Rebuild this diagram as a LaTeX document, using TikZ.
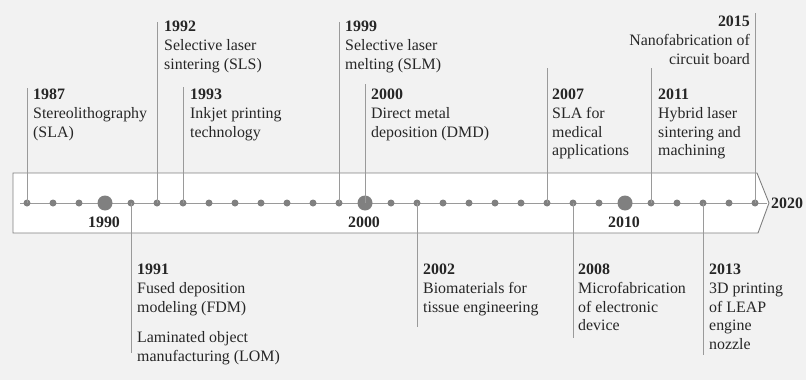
\documentclass[tikz,border=0pt]{standalone}
\usepackage{fontspec}
\setmainfont{Liberation Serif}
\definecolor{bggray}{HTML}{F2F2F2}
\definecolor{stemgray}{HTML}{9A9A9A}
\definecolor{dotgray}{HTML}{808080}
\definecolor{inkgray}{HTML}{262626}

\begin{document}
\begin{tikzpicture}[
  x=1pt, y=-1pt,
  every node/.style={font=\fontsize{15.9}{18.7}\selectfont, text=inkgray, inner sep=0pt},
  dot/.style={circle, fill=dotgray, minimum size=7pt},
  bigdot/.style={circle, fill=dotgray, minimum size=15pt},
  stem/.style={draw=stemgray, line width=0.9pt},
  event/.style={anchor=north west, align=left},
  decade/.style={font=\fontsize{15.9}{18.7}\selectfont\bfseries},
]
  % background
  \fill[bggray] (0,0) rectangle (806,380);
  \useasboundingbox (0,0) rectangle (806,380);

  % arrow shaped band
  \draw[draw=dotgray, fill=white, line width=0.9pt]
    (13,173) -- (757,173) -- (769,203) -- (758,233) -- (13,233) -- cycle;

  % axis line and year dots
  \coordinate (axstart) at (20,203);
  \coordinate (axend) at (767,203);
  \draw[stem] (axstart) -- (axend);
  \foreach \yr in {1987,...,2015}
    \node[dot] (d\yr) at ({27+26*(\yr-1987)}, 203) {};
  \foreach \yr in {1990,2000,2010}
    \node[bigdot] (d\yr) at ({27+26*(\yr-1987)}, 203) {};

  \node[decade, anchor=base] (y1990) at (104,227) {1990};
  \node[decade, anchor=base] (y2000) at (364,227) {2000};
  \node[decade, anchor=base] (y2010) at (624,227) {2010};
  \node[decade, anchor=base west] (y2020) at (771,208) {2020};

  % stems above the band
  \coordinate (t1987) at (27,88);
  \coordinate (t1992) at (157,22);
  \coordinate (t1993) at (183,87);
  \coordinate (t1999) at (339,22);
  \coordinate (t2000) at (365,84);
  \coordinate (t2007) at (547,68);
  \coordinate (t2011) at (651,68);
  \coordinate (t2015) at (755,13);
  \foreach \yr in {1987,1992,1993,1999,2000,2007,2011,2015}
    \draw[stem] (d\yr.center) -- (t\yr);

  % stems below the band
  \coordinate (b1991) at (131,353);
  \coordinate (b2002) at (417,327);
  \coordinate (b2008) at (573,338);
  \coordinate (b2013) at (703,355);
  \foreach \yr in {1991,2002,2008,2013}
    \draw[stem] (d\yr.center) -- (b\yr);

  % events above
  \node[event] (e1987) at (33,89) {\textbf{1987}\\Stereolithography\\(SLA)};
  \node[event] (e1992) at (164,21) {\textbf{1992}\\Selective laser\\sintering (SLS)};
  \node[event] (e1993) at (190,89) {\textbf{1993}\\Inkjet printing\\technology};
  \node[event] (e1999) at (345,21) {\textbf{1999}\\Selective laser\\melting (SLM)};
  \node[event] (e2000) at (371,89) {\textbf{2000}\\Direct metal\\deposition (DMD)};
  \node[event] (e2007) at (552,89) {\textbf{2007}\\SLA for\\medical\\applications};
  \node[event] (e2011) at (658,89) {\textbf{2011}\\Hybrid laser\\sintering and\\machining};
  \node[anchor=north east, align=right] (e2015) at (750,16)
    {\textbf{2015}\\Nanofabrication of\\circuit board};

  % events below
  \node[event] (e1991) at (137,264)
    {\textbf{1991}\\Fused deposition\\modeling (FDM)\\[12pt]Laminated object\\manufacturing (LOM)};
  \node[event] (e2002) at (423,264) {\textbf{2002}\\Biomaterials for\\tissue engineering};
  \node[event] (e2008) at (578,264) {\textbf{2008}\\Microfabrication\\of electronic\\device};
  \node[event] (e2013) at (709,264) {\textbf{2013}\\3D printing\\of LEAP\\engine\\nozzle};

\end{tikzpicture}
\end{document}
